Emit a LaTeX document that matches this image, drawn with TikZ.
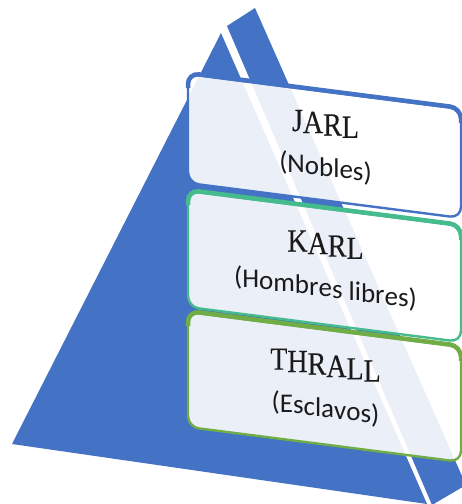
\documentclass[tikz,border=0pt]{standalone}
\usepackage{fontspec}
\newfontfamily\titlefont[FakeBold=0.3]{Liberation Serif}
\newfontfamily\labelfont{Carlito}
\definecolor{pyrblue}{HTML}{4472C4}
\definecolor{tealgreen}{HTML}{46BB8D}
\definecolor{leafgreen}{HTML}{70AD47}
\definecolor{inkgray}{HTML}{1A1A1A}

% Sets a line letter by letter on a baseline that falls to the right
% (slope 0.128), centred on the middle of the line; #1 stretches the
% letters vertically.
\ExplSyntaxOn
\dim_new:N \l__tier_run_dim
\dim_new:N \l__tier_total_dim
\box_new:N \l__tier_char_box
\cs_new_protected:Npn \slantline #1 #2
  {
    \hbox_set:Nn \l__tier_char_box {#2}
    \dim_set:Nn \l__tier_total_dim { \box_wd:N \l__tier_char_box }
    \dim_zero:N \l__tier_run_dim
    \str_map_inline:nn {#2}
      {
        \hbox_set:Nn \l__tier_char_box {##1}
        \box_move_down:nn
          {
            \dim_eval:n
              {
                ( \l__tier_run_dim + \box_wd:N \l__tier_char_box / 2
                  - \l__tier_total_dim / 2 ) * 128 / 1000
              }
          }
          {
            \hbox:n
              {
                \box_scale:Nnn \l__tier_char_box {1} {#1}
                \box_use:N \l__tier_char_box
              }
          }
        \dim_add:Nn \l__tier_run_dim { \box_wd:N \l__tier_char_box }
      }
  }
\ExplSyntaxOff

\tikzset{
  tier/.style={draw=#1, line width=2.4pt, rounded corners=11pt, fill=white,
    fill opacity=0.89, minimum width=273pt, inner sep=0pt, transform shape},
  tiertop/.style={draw=#1, line width=4.5pt, rounded corners=11pt},
  tiertitle/.style={font=\titlefont\fontsize{28}{30}\selectfont, text=inkgray,
    anchor=base, inner sep=0pt},
  tiernote/.style={font=\labelfont\fontsize{27}{30}\selectfont, text=inkgray,
    anchor=base, inner sep=0pt},
}

\begin{document}
\begin{tikzpicture}[x=1pt,y=-1pt]
\path[use as bounding box, clip] (0,0) rectangle (462,504);

% pyramid: front face and side face, split by a white gap
\fill[pyrblue] (12,444) -- (221,33) -- (427,504) -- cycle;
\fill[pyrblue] (227,26) -- (255,8) -- (466,485) -- (432,505) -- cycle;

% top tier
\begin{scope}[shift={(188,74)}, yslant=-0.128]
  \node[tier=pyrblue, minimum height=109pt] (jarlbox) at (136.5,54.5) {};
  \draw[tiertop=pyrblue] (0,14) -- (0,-1) -- (273,-1) -- (273,14);
  \node[tiertitle] (jarl) at (137.5,43) {\slantline{1.15}{JARL}};
  \node[tiernote] (nobles) at (137.5,84.5) {\slantline{1}{(Nobles)}};
\end{scope}

% middle tier
\begin{scope}[shift={(188,191)}, yslant=-0.128]
  \node[tier=tealgreen, minimum height=116pt] (karlbox) at (136.5,58) {};
  \draw[tiertop=tealgreen] (0,14) -- (0,-1) -- (273,-1) -- (273,14);
  \node[tiertitle] (karl) at (137.5,46.5) {\slantline{1.15}{KARL}};
  \node[tiernote] (libres) at (137.5,88) {\slantline{1}{(Hombres libres)}};
\end{scope}

% bottom tier
\begin{scope}[shift={(188,312)}, yslant=-0.128]
  \node[tier=leafgreen, minimum height=115pt] (thrallbox) at (136.5,57.5) {};
  \draw[tiertop=leafgreen] (0,14) -- (0,-1) -- (273,-1) -- (273,14);
  \node[tiertitle] (thrall) at (137.5,46) {\slantline{1.15}{THRALL}};
  \node[tiernote] (esclavos) at (137.5,87.5) {\slantline{1}{(Esclavos)}};
\end{scope}
\end{tikzpicture}
\end{document}
